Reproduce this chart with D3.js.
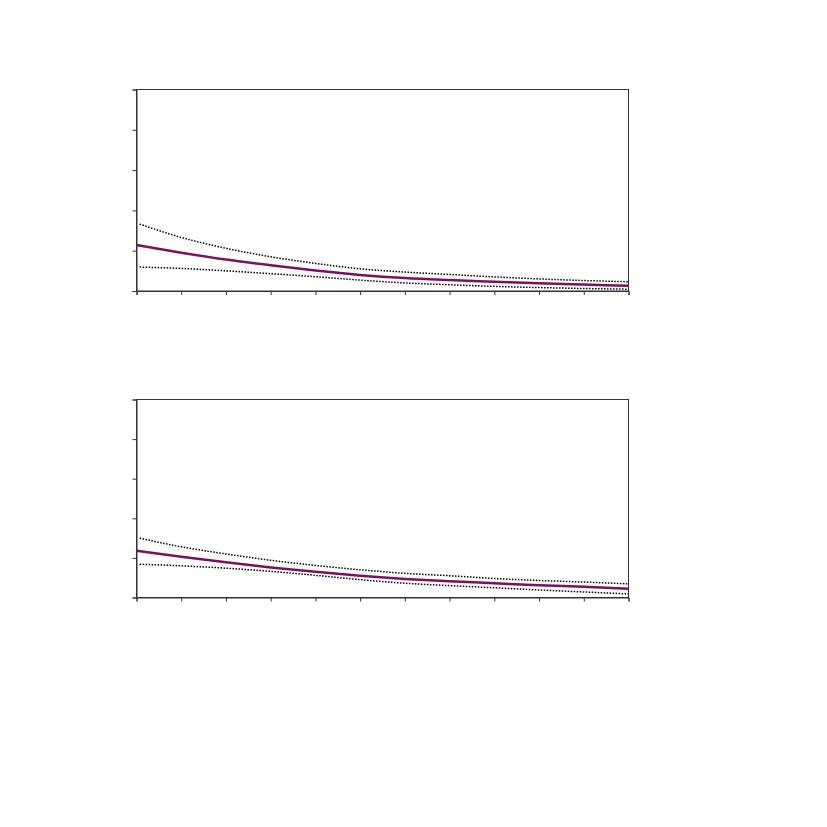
<!DOCTYPE html>
<html><head><meta charset="utf-8">
<script src="https://cdn.jsdelivr.net/npm/d3@7"></script>
<style>body{margin:0;background:#fff}</style>
</head><body>
<svg id="c" width="827" height="827"></svg>
<script>
const xValues = [0,1,2,3,4,5,6,7,8,9,10,11];
const xTicks = [0,1,2,3,4,5,6,7,8,9,10,11];
const yTicks = [0,1,2,3,4,5];
const dotStart = 0.07;

const p1Mean  = [1.14,0.95,0.78,0.64,0.51,0.40,0.32,0.27,0.23,0.19,0.16,0.13];
const p1Upper = [1.66,1.33,1.06,0.85,0.685,0.55,0.47,0.41,0.35,0.30,0.26,0.23];
const p1Lower = [0.594,0.56,0.50,0.43,0.355,0.27,0.20,0.155,0.115,0.085,0.062,0.045];

const p2Mean  = [1.18,1.03,0.89,0.76,0.65,0.55,0.47,0.41,0.36,0.31,0.27,0.22];
const p2Upper = [1.50,1.28,1.10,0.94,0.81,0.70,0.61,0.55,0.48,0.43,0.39,0.345];
const p2Lower = [0.84,0.80,0.74,0.66,0.56,0.45,0.36,0.30,0.245,0.19,0.14,0.09];

const panels = [
  {top:89.5, bottom:291, mean:p1Mean, upper:p1Upper, lower:p1Lower},
  {top:399.5, bottom:597.5, mean:p2Mean, upper:p2Upper, lower:p2Lower}
];

const svg = d3.select("#c");
const x = d3.scaleLinear().domain([0,11]).range([136.5,628.5]);
panels.forEach(p=>{
  const y = d3.scaleLinear().domain([0,5]).range([p.bottom,p.top]);
  const g = svg.append("g");
  g.append("rect").attr("x",x(0)).attr("y",y(5)).attr("width",x(11)-x(0)).attr("height",y(0)-y(5))
    .attr("fill","none").attr("stroke","#333").attr("stroke-width",1);
  const ax = g.append("g").attr("transform",`translate(0,${y(0)})`)
    .call(d3.axisBottom(x).tickValues(xTicks).tickSize(4).tickFormat(""));
  const ay = g.append("g").attr("transform",`translate(${x(0)},0)`)
    .call(d3.axisLeft(y).tickValues(yTicks).tickSize(4).tickFormat(""));
  [ax,ay].forEach(a=>{a.select(".domain").attr("stroke","#333");a.selectAll(".tick line").attr("stroke","#333");});
  const pts = (arr, dotted) => xValues.map((v,i)=>[(dotted && i===0)?dotStart:v, arr[i]]);
  const line = d3.line().x(d=>x(d[0])).y(d=>y(d[1])).curve(d3.curveMonotoneX);
  [p.upper,p.lower].forEach(arr=>{
    g.append("path").attr("d",line(pts(arr,true))).attr("fill","none").attr("stroke","#000")
      .attr("stroke-width",1.5).attr("stroke-dasharray","1.5,1.5");
  });
  g.append("path").attr("d",line(pts(p.mean,false))).attr("fill","none").attr("stroke","#7b1060")
    .attr("stroke-width",2.5);
});
</script>
</body></html>
